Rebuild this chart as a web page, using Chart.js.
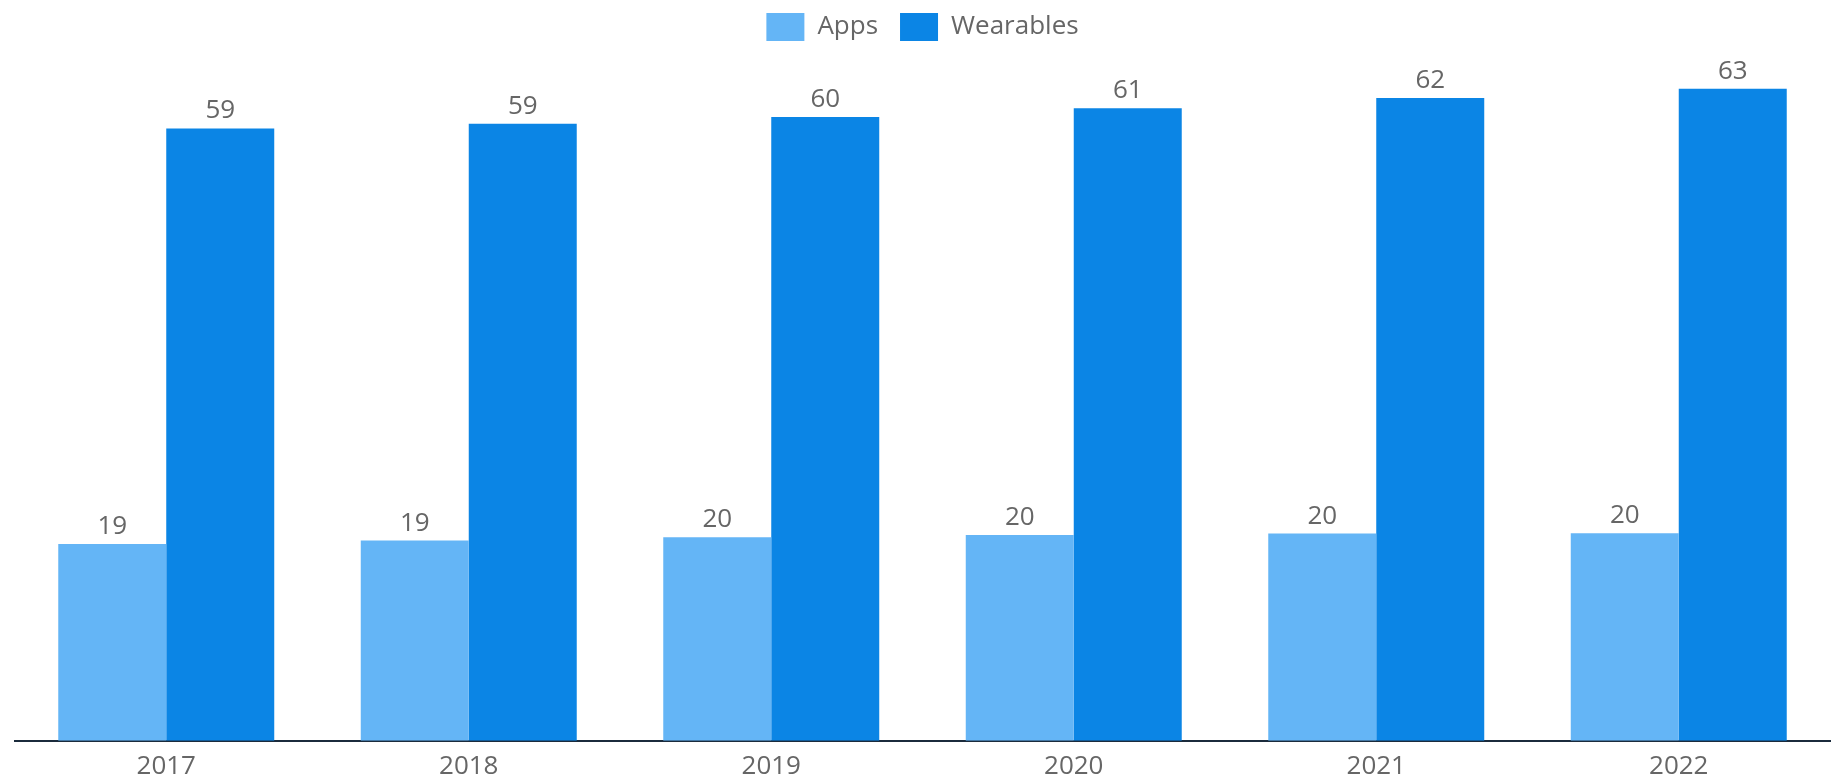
<!DOCTYPE html>
<html>
<head>
<meta charset="utf-8">
<title>Apps vs Wearables</title>
<script src="https://cdn.jsdelivr.net/npm/chart.js@4/dist/chart.umd.min.js"></script>
<style>
  html, body { margin: 0; padding: 0; background: #ffffff; }
  #wrap { width: 1835px; height: 777px; position: relative; }
</style>
</head>
<body>
<div id="wrap"><canvas id="chart" width="1835" height="777"></canvas></div>
<script>
// Years on the category axis
const years = ['2017', '2018', '2019', '2020', '2021', '2022'];
// Series values
const apps = [18.92, 19.25, 19.57, 19.79, 19.92, 19.95];
const wearables = [58.86, 59.30, 59.95, 60.79, 61.79, 62.66];
// Series names
const seriesNames = ['Apps', 'Wearables'];

const FONT = '"Open Sans", "Noto Sans", sans-serif';
const TEXT_COLOR = '#666666';

// Writes the rounded value above each bar
const barValueLabels = {
  id: 'barValueLabels',
  afterDatasetsDraw(chart) {
    const ctx = chart.ctx;
    ctx.save();
    ctx.font = '26px ' + FONT;
    ctx.fillStyle = TEXT_COLOR;
    ctx.textAlign = 'center';
    ctx.textBaseline = 'alphabetic';
    chart.data.datasets.forEach((ds, di) => {
      const meta = chart.getDatasetMeta(di);
      meta.data.forEach((bar, i) => {
        ctx.fillText(String(Math.round(ds.data[i])), bar.x, bar.y - 10);
      });
    });
    ctx.restore();
  }
};

new Chart(document.getElementById('chart'), {
  type: 'bar',
  data: {
    labels: years,
    datasets: [
      {
        label: seriesNames[0],
        data: apps,
        backgroundColor: '#64b5f6',
        borderWidth: 0
      },
      {
        label: seriesNames[1],
        data: wearables,
        backgroundColor: '#0b85e5',
        borderWidth: 0
      }
    ]
  },
  options: {
    responsive: false,
    animation: false,
    devicePixelRatio: 1,
    layout: { padding: { left: 15, right: 5, top: -9, bottom: -8 } },
    datasets: {
      bar: { categoryPercentage: 0.714, barPercentage: 1.0 }
    },
    plugins: {
      legend: {
        position: 'top',
        labels: {
          boxWidth: 38,
          boxHeight: 28,
          padding: 22,
          color: TEXT_COLOR,
          font: { family: FONT, size: 26 }
        }
      },
      tooltip: { enabled: false }
    },
    scales: {
      x: {
        grid: { display: false },
        border: { display: true, color: '#1b2b3c', width: 2 },
        ticks: {
          color: TEXT_COLOR,
          font: { family: FONT, size: 26 },
          padding: 2.5
        }
      },
      y: {
        display: false,
        min: 0,
        max: 66.3
      }
    }
  },
  plugins: [barValueLabels]
});
</script>
</body>
</html>
